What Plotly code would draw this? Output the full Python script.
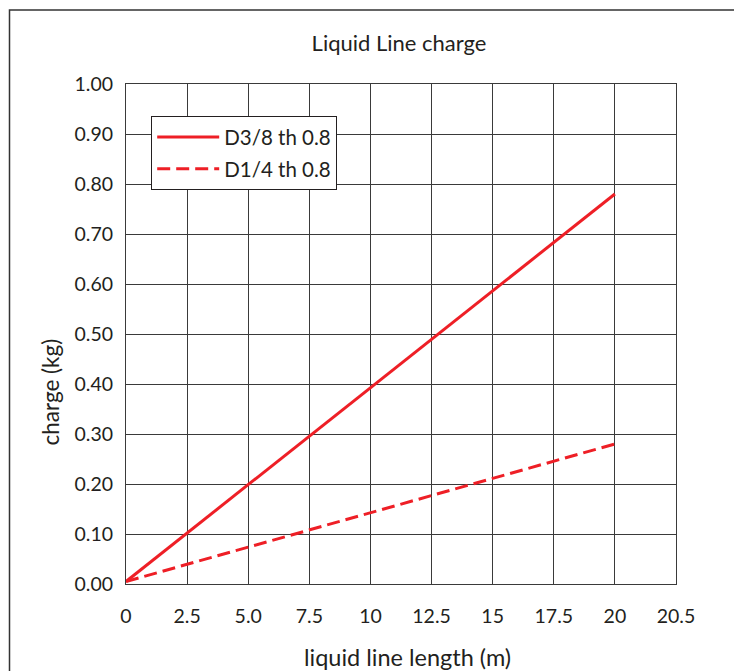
import plotly.graph_objects as go

# Data
length_m = [0, 20]
charge_d38 = [0.005, 0.78]
charge_d14 = [0.005, 0.28]
x_tickvals = [0, 2.5, 5, 7.5, 10, 12.5, 15, 17.5, 20, 22.5]
x_ticktext = ["0", "2.5", "5.0", "7.5", "10", "12.5", "15", "17.5", "20", "20.5"]
y_tickvals = [0, 0.1, 0.2, 0.3, 0.4, 0.5, 0.6, 0.7, 0.8, 0.9, 1.0]

FONT = "Lato"
RED = "#ee1f26"
GRID = "#3a3a3a"
TXT = "#231f20"

fig = go.Figure()
fig.add_trace(go.Scatter(x=length_m, y=charge_d38, mode="lines", name="D3/8 th 0.8",
                         legendgroup="a", line=dict(color=RED, width=3)))
fig.add_trace(go.Scatter(x=length_m, y=charge_d14, mode="lines", name="D1/4 th 0.8",
                         legendgroup="b", line=dict(color=RED, width=3, dash="13px,6px")))

# page has an 8px body margin, so figure coords = page coords - 8
W, H = 734, 663
L, R, T, B = 118, 66, 76, 87
pw, ph = W - L - R, H - T - B

def px(x):
    return (x - L) / pw

def py(y):
    return (H - B - y) / ph

fig.update_layout(
    width=W, height=H,
    margin=dict(l=L, r=R, t=T, b=B),
    paper_bgcolor="white", plot_bgcolor="white",
    font=dict(family=FONT, size=19.5, color=TXT),
    title=dict(text="Liquid Line charge", x=391 / W, xanchor="center",
               y=1 - 35 / H, yanchor="middle", font=dict(size=22)),
    showlegend=True,
    legend=dict(x=px(143), y=py(108), xanchor="left", yanchor="top",
                bordercolor=TXT, borderwidth=1.2, bgcolor="white",
                font=dict(size=20.5), itemwidth=62, traceorder="grouped",
                tracegroupgap=2),
    xaxis=dict(range=[0, 22.5], tickvals=x_tickvals, ticktext=x_ticktext,
               showgrid=True, gridcolor=GRID, gridwidth=1, zeroline=False,
               showline=True, linecolor=GRID, linewidth=1, mirror=True,
               ticks="", ticklabelstandoff=15, tickfont=dict(size=19.5)),
    yaxis=dict(range=[0, 1.0], tickvals=y_tickvals, tickformat=".2f",
               showgrid=True, gridcolor=GRID, gridwidth=1, zeroline=False,
               showline=True, linecolor=GRID, linewidth=1, mirror=True,
               ticks="", ticklabelstandoff=8, tickfont=dict(size=19.5)),
)

fig.add_annotation(text="liquid line length (m)", xref="paper", yref="paper",
                   x=px(399), y=py(649), xanchor="center", yanchor="middle",
                   showarrow=False, font=dict(size=23.5))
fig.add_annotation(text="charge (kg)", xref="paper", yref="paper",
                   x=px(42), y=py(384.5), xanchor="center", yanchor="middle",
                   textangle=-90, showarrow=False, font=dict(size=22.5))

# Outer frame (left and top edges visible)
fig.add_shape(type="rect", xref="paper", yref="paper",
              x0=px(1.5), x1=px(W + 20), y0=py(H + 20), y1=py(2),
              line=dict(color="#333333", width=1.5), fillcolor="rgba(0,0,0,0)", layer="below")

fig.write_html("out.html")
